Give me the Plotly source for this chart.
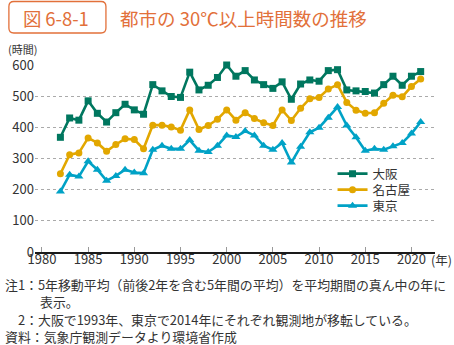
import plotly.graph_objects as go

# 5-year moving average of annual hours at or above 30°C
years = list(range(1982, 2022))

osaka = [368, 430, 423, 485, 445, 417, 447, 474, 456, 442,
         537, 517, 499, 496, 577, 520, 535, 560, 600, 564,
         582, 552, 537, 525, 546, 490, 539, 552, 548, 582,
         585, 520, 517, 515, 510, 537, 564, 535, 564, 579]

nagoya = [251, 312, 318, 366, 350, 323, 345, 363, 361, 331,
          407, 407, 401, 391, 456, 393, 406, 426, 456, 423,
          447, 428, 415, 406, 456, 422, 461, 492, 496, 523,
          537, 480, 455, 445, 447, 477, 503, 498, 531, 555]

tokyo = [194, 248, 242, 291, 264, 229, 244, 264, 255, 253,
         328, 341, 331, 331, 359, 325, 321, 341, 374, 369,
         388, 374, 341, 328, 350, 287, 338, 384, 399, 431,
         465, 406, 368, 325, 331, 328, 339, 350, 380, 417]

series_names = ["大阪", "名古屋", "東京"]
series_colors = ["#00775F", "#E2A700", "#00A2C6"]
series_symbols = ["square", "circle", "triangle-up"]
series_sizes = [7, 7, 8]
series_values = [osaka, nagoya, tokyo]

y_ticks = [0, 100, 200, 300, 400, 500, 600]
x_ticks = [1980, 1985, 1990, 1995, 2000, 2005, 2010, 2015, 2020]

FONT = "Noto Sans CJK JP"
TEXT = "#333333"
ORANGE = "#E2703A"

W, H = 454, 345
ML, MR, MT, MB = 29, 19, 65, 93


def px(x):
    """Page pixel column -> paper x."""
    return (x - ML) / (W - ML - MR)


def py(y):
    """Page pixel row -> paper y."""
    return (H - MB - y) / (H - MT - MB)


fig = go.Figure()

# one legend box per series so the rows can sit tightly stacked
legend_ids = ["legend", "legend2", "legend3"]
legend_rows = [174, 190, 206]

for name, vals, color, sym, size, lid in zip(
        series_names, series_values, series_colors, series_symbols,
        series_sizes, legend_ids):
    fig.add_trace(go.Scatter(
        x=years, y=vals, name=name, mode="lines+markers",
        line=dict(color=color, width=2.6),
        marker=dict(symbol=sym, size=size, color=color),
        cliponaxis=False, legend=lid,
    ))

legend_style = dict(
    x=px(331), xanchor="left", yanchor="middle",
    bgcolor="rgba(0,0,0,0)", borderwidth=0,
    font=dict(family=FONT, size=12.5, color=TEXT),
    itemwidth=30,
)

fig.update_layout(
    width=W, height=H,
    margin=dict(l=ML, r=MR, t=MT, b=MB),
    paper_bgcolor="white", plot_bgcolor="white",
    font=dict(family=FONT, size=12, color=TEXT),
    showlegend=True,
    legend=dict(y=py(legend_rows[0]), **legend_style),
    legend2=dict(y=py(legend_rows[1]), **legend_style),
    legend3=dict(y=py(legend_rows[2]), **legend_style),
    xaxis=dict(
        range=[1979.25, 2022.55], tickvals=x_ticks,
        showgrid=False, zeroline=False,
        showline=True, linecolor="#1a1a1a", linewidth=1.5,
        ticks="inside", ticklen=5, tickcolor="#999999", tickwidth=1,
        ticklabelstandoff=-5,
        tickfont=dict(family=FONT, size=13, color=TEXT),
    ),
    yaxis=dict(
        range=[0, 600], tickvals=y_ticks,
        showgrid=True, gridcolor="#AAAAAA", gridwidth=1, griddash="dot",
        zeroline=False, showline=False, ticks="",
        tickfont=dict(family=FONT, size=13, color=TEXT),
    ),
)

# white patch behind the legend rows so the grid does not run through them
fig.add_shape(type="rect", xref="paper", yref="paper", layer="above",
              x0=px(333), x1=px(407), y0=py(213), y1=py(166),
              line=dict(width=0), fillcolor="white")


def badge_path(x0, y0, x1, y1, r):
    def P(x, y):
        return f"{px(x):.5f},{py(y):.5f}"
    return " ".join([
        f"M {P(x0 + r, y0)}",
        f"L {P(x1 - r, y0)}",
        f"Q {P(x1, y0)} {P(x1, y0 + r)}",
        f"L {P(x1, y1 - r)}",
        f"Q {P(x1, y1)} {P(x1 - r, y1)}",
        f"L {P(x0 + r, y1)}",
        f"Q {P(x0, y1)} {P(x0, y1 - r)}",
        f"L {P(x0, y0 + r)}",
        f"Q {P(x0, y0)} {P(x0 + r, y0)} Z",
    ])


# figure number badge with rounded corners
fig.add_shape(type="path", xref="paper", yref="paper",
              path=badge_path(2.5, 1.5, 101, 33, 5),
              line=dict(color=ORANGE, width=1.3), fillcolor="white")


def label(text, x, y, size=12.5, color=TEXT, xanchor="left"):
    fig.add_annotation(text=text, x=px(x), y=py(y), xref="paper",
                       yref="paper", xanchor=xanchor, yanchor="middle",
                       showarrow=False, borderpad=0,
                       font=dict(family=FONT, size=size, color=color))


label("図\u20096-8-1", 50, 18.5, size=18.5, color=ORANGE, xanchor="center")
label("都市の 30℃以上時間数の推移", 114, 18, size=18.5, color=ORANGE)
label("(時間)", 1, 49, size=11)
label("(年)", 442, 259, size=12.5, xanchor="center")
label("注1：5年移動平均（前後2年を含む5年間の平均）を平均期間の真ん中の年に",
      -2, 284, size=12.9)
label("表示。", 33, 301.5, size=12.9)
label("2：大阪で1993年、東京で2014年にそれぞれ観測地が移転している。",
      11, 319, size=12.9)
label("資料：気象庁観測データより環境省作成", -2, 336.5, size=12.9)

fig.write_html("out.html")
